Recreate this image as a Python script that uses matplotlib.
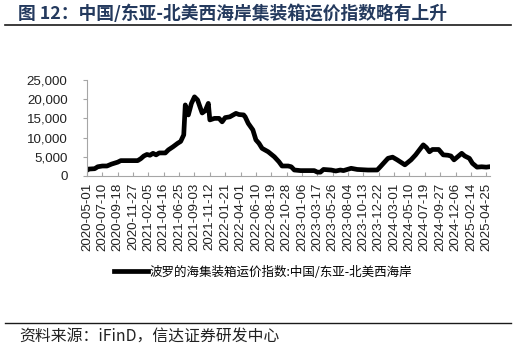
import numpy as np
import pandas as pd
import matplotlib
matplotlib.use('Agg')
import matplotlib.pyplot as plt
import matplotlib.dates as mdates
from matplotlib.lines import Line2D

plt.rcParams['font.family'] = ['Liberation Sans', 'Noto Sans CJK SC', 'DejaVu Sans']

# FBX China/East Asia - North America West Coast
dates = ['2020-05-01', '2020-05-08', '2020-06-05', '2020-06-19', '2020-07-10', '2020-07-31',
         '2020-08-21', '2020-09-18', '2020-10-02', '2020-12-18', '2021-01-01', '2021-01-15',
         '2021-01-29', '2021-02-12', '2021-02-26', '2021-03-12', '2021-03-26', '2021-04-23',
         '2021-05-07', '2021-05-28', '2021-06-18', '2021-07-02', '2021-07-16', '2021-07-23',
         '2021-08-06', '2021-08-20', '2021-09-03', '2021-09-17', '2021-10-01', '2021-10-08',
         '2021-10-22', '2021-11-05', '2021-11-12', '2021-12-03', '2021-12-24', '2022-01-07',
         '2022-01-21', '2022-02-11', '2022-03-11', '2022-03-25', '2022-04-15', '2022-04-22',
         '2022-05-06', '2022-05-27', '2022-06-10', '2022-06-24', '2022-07-08', '2022-08-05',
         '2022-09-02', '2022-09-23', '2022-10-07', '2022-11-04', '2022-11-18', '2022-12-02',
         '2022-12-30', '2023-03-03', '2023-03-17', '2023-03-31', '2023-04-14', '2023-05-19',
         '2023-06-09', '2023-06-30', '2023-07-14', '2023-08-18', '2023-09-15', '2023-11-03',
         '2023-12-15', '2023-12-29', '2024-02-02', '2024-02-23', '2024-03-15', '2024-04-19',
         '2024-05-17', '2024-06-07', '2024-07-05', '2024-07-12', '2024-07-26', '2024-08-09',
         '2024-08-23', '2024-09-20', '2024-10-11', '2024-11-01', '2024-11-15', '2024-11-29',
         '2025-01-03', '2025-01-17', '2025-02-07', '2025-02-21', '2025-03-14', '2025-04-04',
         '2025-04-25', '2025-05-09']
values = [1500, 1800, 1900, 2400, 2600, 2600,
          3100, 3600, 4000, 4000, 4500, 5200,
          5600, 5400, 5900, 5500, 6000, 6000,
          6800, 7600, 8500, 9000, 10700, 18500,
          15900, 18900, 20600, 19800, 17500, 16400,
          17000, 18900, 14600, 15000, 15000, 14100,
          15200, 15400, 16300, 16000, 15900, 15400,
          13700, 12000, 9400, 8500, 7200, 6300,
          5000, 3700, 2600, 2600, 2400, 1560,
          1400, 1400, 1000, 1000, 1700, 1550,
          1300, 1550, 1400, 2000, 1700, 1550,
          1560, 2400, 4600, 4900, 4200, 2900,
          4200, 5500, 7600, 8100, 7400, 6300,
          6900, 6900, 5500, 5400, 5200, 4200,
          5900, 5200, 4600, 3300, 2300, 2400,
          2300, 2400]

tick_dates = ['2020-05-01', '2020-07-10', '2020-09-18', '2020-11-27', '2021-02-05', '2021-04-16',
              '2021-06-25', '2021-09-03', '2021-11-12', '2022-01-21', '2022-04-01', '2022-06-10',
              '2022-08-19', '2022-10-28', '2023-01-06', '2023-03-17', '2023-05-26', '2023-08-04',
              '2023-10-13', '2023-12-22', '2024-03-01', '2024-05-10', '2024-07-19', '2024-09-27',
              '2024-12-06', '2025-02-14', '2025-04-25']
yticks = [0, 5000, 10000, 15000, 20000, 25000]

title = '图 12：中国/东亚-北美西海岸集装箱运价指数略有上升'
series_name = '波罗的海集装箱运价指数:中国/东亚-北美西海岸'
source = '资料来源：iFinD，信达证券研发中心'

x = pd.to_datetime(dates)
xt = pd.to_datetime(tick_dates)

fig = plt.figure(figsize=(5.16, 3.48), dpi=100)
ax = fig.add_axes([0.1686, 0.4943, 0.781, 0.2759])
ax.plot(x, values, color='black', linewidth=3.4, solid_joinstyle='round', label=series_name)

ax.set_xlim(pd.Timestamp('2020-05-01'), pd.Timestamp('2025-05-12'))
ax.set_ylim(0, 25000)
ax.set_yticks(yticks)
ax.set_yticklabels(['{:,}'.format(v) for v in yticks])
ax.set_xticks(xt)
ax.set_xticklabels([d.strftime('%Y-%m-%d') for d in xt], rotation=90)

for s in ['top', 'right']:
    ax.spines[s].set_visible(False)
for s in ['left', 'bottom']:
    ax.spines[s].set_color('#a6a6a6')
    ax.spines[s].set_linewidth(0.8)
ax.tick_params(axis='x', direction='in', length=3, color='#a6a6a6', labelsize=9.6, pad=5, labelcolor='#222222')
ax.tick_params(axis='y', direction='out', length=3, color='#a6a6a6', labelsize=9.6, pad=11, labelcolor='#222222')

leg = ax.legend(loc='upper left', bbox_to_anchor=(0.055, -0.88), frameon=False,
                handlelength=2.7, handletextpad=0.1, borderaxespad=0,
                prop={'family': ['Noto Sans CJK SC', 'DejaVu Sans'], 'size': 9.0})

# title and its rule
fig.text(0.035, 0.96, title, fontsize=12.8, fontweight='bold', color='#243a5e',
         family=['Noto Sans CJK SC', 'DejaVu Sans'], va='center', ha='left')
fig.add_artist(Line2D([0.01, 0.99], [0.928, 0.928], color='#1a1a1a', linewidth=1.2,
                      transform=fig.transFigure))

# source note
fig.add_artist(Line2D([0.01, 0.99], [0.072, 0.072], color='#1a1a1a', linewidth=1.0,
                      transform=fig.transFigure))
fig.text(0.038, 0.035, source, fontsize=11.4, style='italic', color='#222222',
         family=['Noto Sans CJK SC', 'DejaVu Sans'], va='center', ha='left')

plt.savefig('out.png', dpi=100)
